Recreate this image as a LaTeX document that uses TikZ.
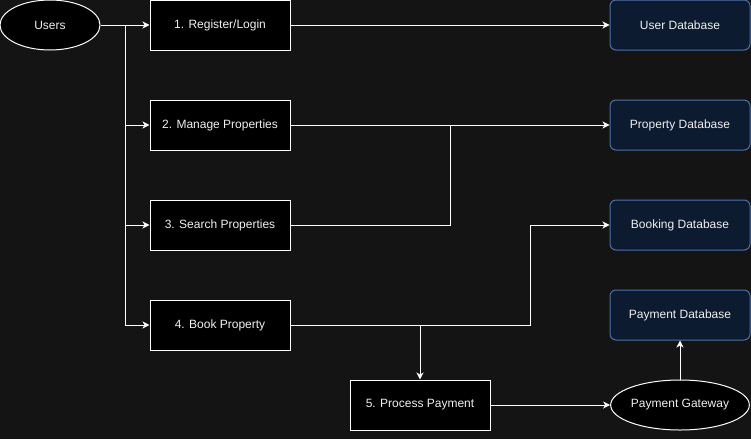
\documentclass[tikz,border=0pt]{standalone}
\usepackage{fontspec}
\setmainfont{Liberation Sans}
\usetikzlibrary{arrows.meta,shapes.geometric}
\definecolor{bg}{RGB}{20,20,20}
\definecolor{dbfill}{RGB}{12,27,47}
\definecolor{dbline}{RGB}{78,112,168}
\definecolor{txt}{RGB}{240,240,240}
\tikzset{
  base/.style={text=txt, font=\fontsize{12}{14}\selectfont, line width=1pt, inner sep=0pt},
  procbox/.style={base, draw=white, fill=black, minimum width=140pt, minimum height=50pt},
  dbbox/.style={base, draw=dbline, fill=dbfill, rounded corners=6pt, minimum width=140pt, minimum height=50pt},
  ell/.style={base, ellipse, draw=white, fill=black},
  conn/.style={draw=white, line width=1pt, -{Stealth[length=7pt,width=7pt,inset=2pt]}},
  line/.style={draw=white, line width=1pt}
}
\begin{document}
\begin{tikzpicture}[x=1pt,y=-1pt]
\fill[bg] (0,0) rectangle (751,439);
\useasboundingbox (0,0) rectangle (751,439);
\node[ell, minimum width=100pt, minimum height=50pt] (users) at (50,25) {Users};
\node[procbox] (p1) at (220,25) {1. Register/Login};
\node[procbox] (p2) at (220,125) {2. Manage Properties};
\node[procbox] (p3) at (220,225) {3. Search Properties};
\node[procbox] (p4) at (220,325) {4. Book Property};
\node[procbox] (p5) at (420,405) {5. Process Payment};
\node[dbbox] (udb) at (680,25) {User Database};
\node[dbbox] (pdb) at (680,125) {Property Database};
\node[dbbox] (bdb) at (680,225) {Booking Database};
\node[dbbox] (paydb) at (680,315) {Payment Database};
\node[ell, minimum width=120pt, minimum height=50pt] (gw) at (680,405) {Payment Gateway};
\coordinate (split) at (125,25);
\draw[conn] (users.east) -- (p1.west);
\draw[conn] (split) |- (p2.west);
\draw[conn] (split) |- (p3.west);
\draw[conn] (split) |- (p4.west);
\draw[conn] (p1.east) -- (udb.west);
\draw[conn] (p2.east) -- (pdb.west);
\coordinate (j3) at (450,125);
\draw[line] (p3.east) -| (j3);
\coordinate (j4) at (530,225);
\draw[conn] (p4.east) -| (j4) -- (bdb.west);
\coordinate (d4) at (420,325);
\draw[conn] (d4) -- (p5.north);
\draw[conn] (p5.east) -- (gw.west);
\draw[conn] (gw.north) -- (paydb.south);
\end{tikzpicture}
\end{document}
